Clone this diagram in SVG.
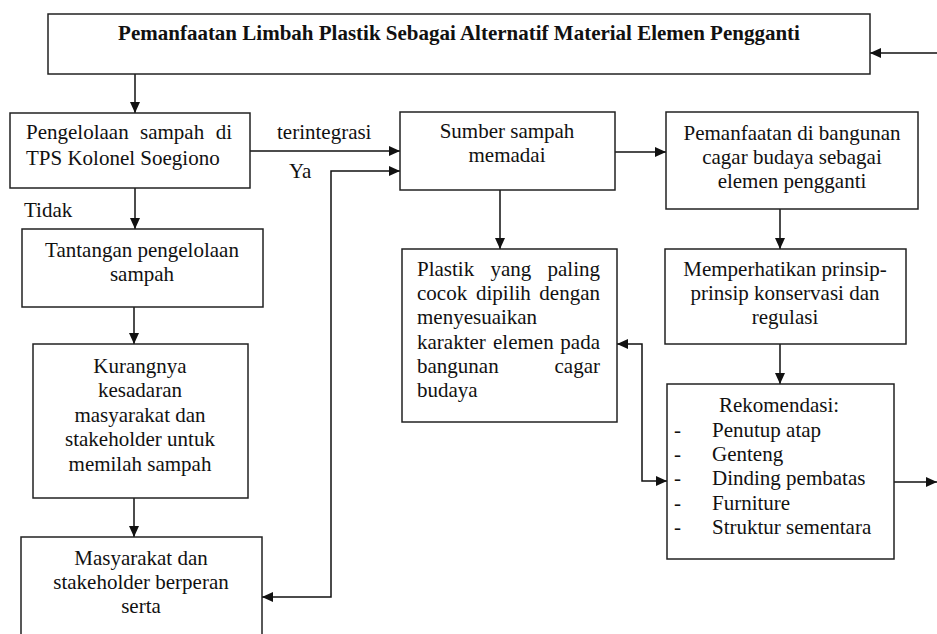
<svg xmlns="http://www.w3.org/2000/svg" width="937" height="634" viewBox="0 0 937 634">
<style>
  .box { fill: #ffffff; stroke: #222222; stroke-width: 1.5; }
  .t { font-family: "Liberation Serif", "Times New Roman", serif; font-size: 21px; fill: #111111; }
  .c { text-anchor: middle; }
  .e { text-anchor: end; }
  .b { font-weight: bold; }
  .ln { fill: none; stroke: #111111; stroke-width: 1.5; }
</style>
<defs>
  <marker id="ah" markerUnits="userSpaceOnUse" markerWidth="11" markerHeight="10" refX="11" refY="5" orient="auto-start-reverse">
    <path d="M0,0 L11,5 L0,10 z" fill="#111111"/>
  </marker>
</defs>
<rect width="937" height="634" fill="#ffffff"/>

<g id="connectors">
  <line class="ln" x1="135" y1="74" x2="135" y2="113" marker-end="url(#ah)"/>
  <line class="ln" x1="937" y1="53" x2="870" y2="53" marker-end="url(#ah)"/>
  <line class="ln" x1="250" y1="151" x2="400" y2="151" marker-end="url(#ah)"/>
  <polyline class="ln" points="262,597 331,597 331,171 400,171" marker-start="url(#ah)" marker-end="url(#ah)"/>
  <line class="ln" x1="135" y1="188" x2="135" y2="229" marker-end="url(#ah)"/>
  <line class="ln" x1="134" y1="307" x2="134" y2="344" marker-end="url(#ah)"/>
  <line class="ln" x1="134" y1="498" x2="134" y2="537" marker-end="url(#ah)"/>
  <line class="ln" x1="615" y1="152" x2="666" y2="152" marker-end="url(#ah)"/>
  <line class="ln" x1="500" y1="190" x2="500" y2="249" marker-end="url(#ah)"/>
  <line class="ln" x1="780" y1="209" x2="780" y2="249" marker-end="url(#ah)"/>
  <line class="ln" x1="780" y1="344" x2="780" y2="384" marker-end="url(#ah)"/>
  <polyline class="ln" points="617,344 642,344 642,481 667,481" marker-start="url(#ah)" marker-end="url(#ah)"/>
  <line class="ln" x1="894" y1="482" x2="937" y2="482" marker-end="url(#ah)"/>
  <text class="t" x="277" y="139">terintegrasi</text>
  <text class="t" x="289" y="178">Ya</text>
  <text class="t" x="24" y="217">Tidak</text>
</g>

<g id="node-title">
  <rect class="box" x="48" y="14" width="822" height="60"/>
  <text class="t c b" x="459" y="40">Pemanfaatan Limbah Plastik Sebagai Alternatif Material Elemen Pengganti</text>
</g>

<g id="node-pengelolaan">
  <rect class="box" x="10" y="113" width="240" height="75"/>
  <text class="t" y="139"><tspan x="26">Pengelolaan</tspan><tspan x="140">sampah</tspan><tspan x="232" text-anchor="end">di</tspan></text>
  <text class="t" x="26" y="165">TPS Kolonel Soegiono</text>
</g>

<g id="node-sumber">
  <rect class="box" x="400" y="112" width="215" height="78"/>
  <text class="t c" x="507" y="138">Sumber sampah</text>
  <text class="t c" x="507" y="162">memadai</text>
</g>

<g id="node-pemanfaatan">
  <rect class="box" x="666" y="112" width="252" height="97"/>
  <text class="t c" x="792" y="140">Pemanfaatan di bangunan</text>
  <text class="t c" x="792" y="164">cagar budaya sebagai</text>
  <text class="t c" x="792" y="188">elemen pengganti</text>
</g>

<g id="node-tantangan">
  <rect class="box" x="22" y="229" width="241" height="78"/>
  <text class="t c" x="142" y="257">Tantangan pengelolaan</text>
  <text class="t c" x="142" y="281">sampah</text>
</g>

<g id="node-plastik">
  <rect class="box" x="402" y="249" width="215" height="173"/>
  <text class="t" y="276"><tspan x="417">Plastik</tspan><tspan x="490.5">yang</tspan><tspan x="600" text-anchor="end">paling</tspan></text>
  <text class="t" y="300"><tspan x="417">cocok</tspan><tspan x="476">dipilih</tspan><tspan x="600" text-anchor="end">dengan</tspan></text>
  <text class="t" x="417" y="324">menyesuaikan</text>
  <text class="t" y="349"><tspan x="417">karakter</tspan><tspan x="493">elemen</tspan><tspan x="600" text-anchor="end">pada</tspan></text>
  <text class="t" y="373"><tspan x="417">bangunan</tspan><tspan x="600" text-anchor="end">cagar</tspan></text>
  <text class="t" x="417" y="397">budaya</text>
</g>

<g id="node-memperhatikan">
  <rect class="box" x="665" y="249" width="241" height="95"/>
  <text class="t c" x="785" y="276">Memperhatikan prinsip-</text>
  <text class="t c" x="785" y="300">prinsip konservasi dan</text>
  <text class="t c" x="785" y="324">regulasi</text>
</g>

<g id="node-kurangnya">
  <rect class="box" x="33" y="344" width="215" height="154"/>
  <text class="t c" x="140" y="373">Kurangnya</text>
  <text class="t c" x="140" y="397">kesadaran</text>
  <text class="t c" x="140" y="422">masyarakat dan</text>
  <text class="t c" x="140" y="446">stakeholder untuk</text>
  <text class="t c" x="140" y="471">memilah sampah</text>
</g>

<g id="node-rekomendasi">
  <rect class="box" x="667" y="384" width="227" height="175"/>
  <text class="t c" x="779" y="412">Rekomendasi:</text>
  <text class="t" x="674" y="437">-</text><text class="t" x="712" y="437">Penutup atap</text>
  <text class="t" x="674" y="461">-</text><text class="t" x="712" y="461">Genteng</text>
  <text class="t" x="674" y="485">-</text><text class="t" x="712" y="485">Dinding pembatas</text>
  <text class="t" x="674" y="510">-</text><text class="t" x="712" y="510">Furniture</text>
  <text class="t" x="674" y="534">-</text><text class="t" x="712" y="534">Struktur sementara</text>
</g>

<g id="node-masyarakat">
  <rect class="box" x="21" y="537" width="241" height="110"/>
  <text class="t c" x="141" y="565">Masyarakat dan</text>
  <text class="t c" x="141" y="589">stakeholder berperan</text>
  <text class="t c" x="141" y="613">serta</text>
</g>
</svg>
